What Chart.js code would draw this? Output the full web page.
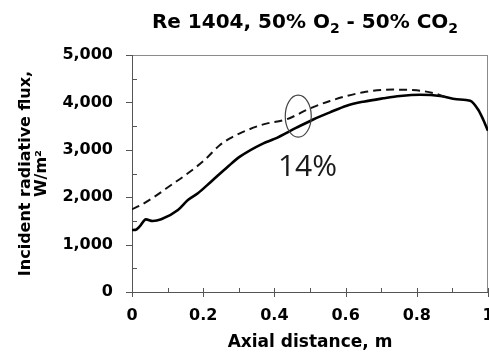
<!DOCTYPE html>
<html>
<head>
<meta charset="utf-8">
<script src="https://cdn.jsdelivr.net/npm/chart.js@4.4.0/dist/chart.umd.min.js"></script>
<style>
  html, body { margin: 0; padding: 0; background: #fff; }
</style>
</head>
<body>
<canvas id="fluxChart" width="489" height="362"></canvas>
<script>
// Axial profile of incident radiative flux (W/m2)
const solidDistance = [0, 0.01, 0.021, 0.039, 0.058, 0.082, 0.129, 0.157, 0.185, 0.222, 0.269, 0.303, 0.369, 0.40, 0.462, 0.509, 0.556, 0.603, 0.65, 0.706, 0.753, 0.81, 0.866, 0.912, 0.95, 0.973, 0.987, 1.0];
const solidFlux = [1308, 1310, 1378, 1533, 1498, 1533, 1730, 1941, 2082, 2327, 2643, 2855, 3137, 3230, 3467, 3640, 3790, 3930, 4015, 4086, 4135, 4160, 4135, 4065, 4036, 3840, 3629, 3400];

const dashedDistance = [0, 0.025, 0.063, 0.11, 0.157, 0.204, 0.247, 0.275, 0.303, 0.369, 0.434, 0.462, 0.49, 0.556, 0.65, 0.734, 0.781, 0.81, 0.856, 0.885];
const dashedFlux = [1745, 1835, 2011, 2257, 2504, 2785, 3101, 3242, 3348, 3537, 3643, 3734, 3840, 4030, 4213, 4270, 4262, 4247, 4177, 4095];

const xTicks = [0, 0.2, 0.4, 0.6, 0.8, 1];
const xMinorTicks = [0.1, 0.3, 0.5, 0.7, 0.9];
const yTicks = [0, 1000, 2000, 3000, 4000, 5000];
const yMinorTicks = [500, 1500, 2500, 3500, 4500];

// ellipse + percentage note
const noteEllipse = { x: 0.467, y: 3709 };
const noteLabel = { x: 0.493, y: 2627, text: '14%' };

const toPoints = (xs, ys) => xs.map((x, i) => ({ x: x, y: ys[i] }));

const tickFont = { family: 'DejaVu Sans', size: 16, weight: 'bold' };

// plot frame and Excel-style tick marks
const frameAndTicks = {
  id: 'frameAndTicks',
  beforeDatasetsDraw(chart) {
    const { ctx, chartArea: a, scales: { x, y } } = chart;
    ctx.save();
    ctx.lineWidth = 1;
    ctx.strokeStyle = '#8a8a8a';
    ctx.strokeRect(a.left + 0.5, a.top + 0.5, a.right - a.left - 1, a.bottom - a.top);
    ctx.strokeStyle = '#555';
    ctx.beginPath();
    ctx.moveTo(a.left + 0.5, a.top);
    ctx.lineTo(a.left + 0.5, a.bottom + 0.5);
    ctx.lineTo(a.right, a.bottom + 0.5);
    yTicks.forEach(v => {
      const py = Math.round(y.getPixelForValue(v)) + 0.5;
      ctx.moveTo(a.left - 6, py); ctx.lineTo(a.left + 1, py);
    });
    yMinorTicks.forEach(v => {
      const py = Math.round(y.getPixelForValue(v)) + 0.5;
      ctx.moveTo(a.left, py); ctx.lineTo(a.left + 5, py);
    });
    xTicks.forEach(v => {
      const px = Math.round(x.getPixelForValue(v)) + 0.5;
      ctx.moveTo(px, a.bottom - 4); ctx.lineTo(px, a.bottom + 5);
    });
    xMinorTicks.forEach(v => {
      const px = Math.round(x.getPixelForValue(v)) + 0.5;
      ctx.moveTo(px, a.bottom - 4); ctx.lineTo(px, a.bottom);
    });
    ctx.stroke();
    ctx.restore();
  }
};

const noteMarks = {
  id: 'noteMarks',
  afterDatasetsDraw(chart) {
    const { ctx, scales: { x, y } } = chart;
    ctx.save();
    ctx.strokeStyle = '#444';
    ctx.lineWidth = 1.2;
    ctx.beginPath();
    ctx.ellipse(x.getPixelForValue(noteEllipse.x), y.getPixelForValue(noteEllipse.y), 13, 21, 0, 0, Math.PI * 2);
    ctx.stroke();
    ctx.fillStyle = '#1a1a1a';
    ctx.font = '30px "Open Sans"';
    ctx.textAlign = 'center';
    ctx.textBaseline = 'middle';
    ctx.fillText(noteLabel.text, x.getPixelForValue(noteLabel.x), y.getPixelForValue(noteLabel.y));
    ctx.restore();
  }
};

// title with real subscripts
const titleParts = [
  ['Re 1404, 50% O', false], ['2', true], [' - 50% CO', false], ['2', true]
];
const subTitle = {
  id: 'subTitle',
  afterDraw(chart) {
    const { ctx, chartArea: a } = chart;
    const big = 'bold 20px "DejaVu Sans"';
    const small = 'bold 14px "DejaVu Sans"';
    ctx.save();
    let total = 0;
    titleParts.forEach(([t, sub]) => { ctx.font = sub ? small : big; total += ctx.measureText(t).width; });
    let cx = (a.left + a.right) / 2 - 5 - total / 2;
    const base = 28;
    ctx.fillStyle = '#000';
    ctx.textBaseline = 'alphabetic';
    ctx.textAlign = 'left';
    titleParts.forEach(([t, sub]) => {
      ctx.font = sub ? small : big;
      ctx.fillText(t, cx, sub ? base + 5 : base);
      cx += ctx.measureText(t).width;
    });
    ctx.restore();
  }
};

new Chart(document.getElementById('fluxChart'), {
  type: 'line',
  data: {
    datasets: [
      {
        label: 'dashed',
        data: toPoints(dashedDistance, dashedFlux),
        borderColor: '#111',
        borderWidth: 2,
        borderDash: [8, 5],
        pointRadius: 0,
        cubicInterpolationMode: 'monotone',
        fill: false
      },
      {
        label: 'solid',
        data: toPoints(solidDistance, solidFlux),
        borderColor: '#000',
        borderWidth: 2.6,
        pointRadius: 0,
        cubicInterpolationMode: 'monotone',
        fill: false
      }
    ]
  },
  options: {
    responsive: false,
    animation: false,
    events: [],
    layout: { padding: { top: 55, left: 0, right: 1, bottom: 0 } },
    plugins: { legend: { display: false }, tooltip: { enabled: false } },
    scales: {
      x: {
        type: 'linear', min: 0, max: 1,
        grid: { display: false, drawTicks: false, tickLength: 0 },
        border: { display: false },
        afterBuildTicks: s => { s.ticks = xTicks.map(v => ({ value: v })); },
        afterFit: s => { s.height = 70; s.paddingLeft = 0; s.paddingRight = 0; },
        ticks: {
          font: tickFont, color: '#000', padding: 14, maxRotation: 0, autoSkip: false,
          callback: v => (v === 0 || v === 1) ? String(v) : v.toFixed(1)
        },
        title: {
          display: true, text: 'Axial distance, m', color: '#000',
          font: { family: 'DejaVu Sans', size: 17, weight: 'bold', lineHeight: 1.2 },
          padding: { top: 0, bottom: 9 }
        }
      },
      y: {
        min: 0, max: 5000,
        grid: { display: false, drawTicks: false, tickLength: 0 },
        border: { display: false },
        afterBuildTicks: s => { s.ticks = yTicks.map(v => ({ value: v })); },
        afterFit: s => { s.width = 132; },
        ticks: {
          font: tickFont, color: '#000', padding: 19,
          callback: v => v.toLocaleString('en-US')
        },
        title: {
          display: true, text: ['Incident radiative flux,', 'W/m²'], color: '#000',
          font: { family: 'DejaVu Sans', size: 16, weight: 'bold', lineHeight: 1.05 },
          padding: { top: 17, bottom: 0 }
        }
      }
    }
  },
  plugins: [frameAndTicks, noteMarks, subTitle]
});
</script>
</body>
</html>
